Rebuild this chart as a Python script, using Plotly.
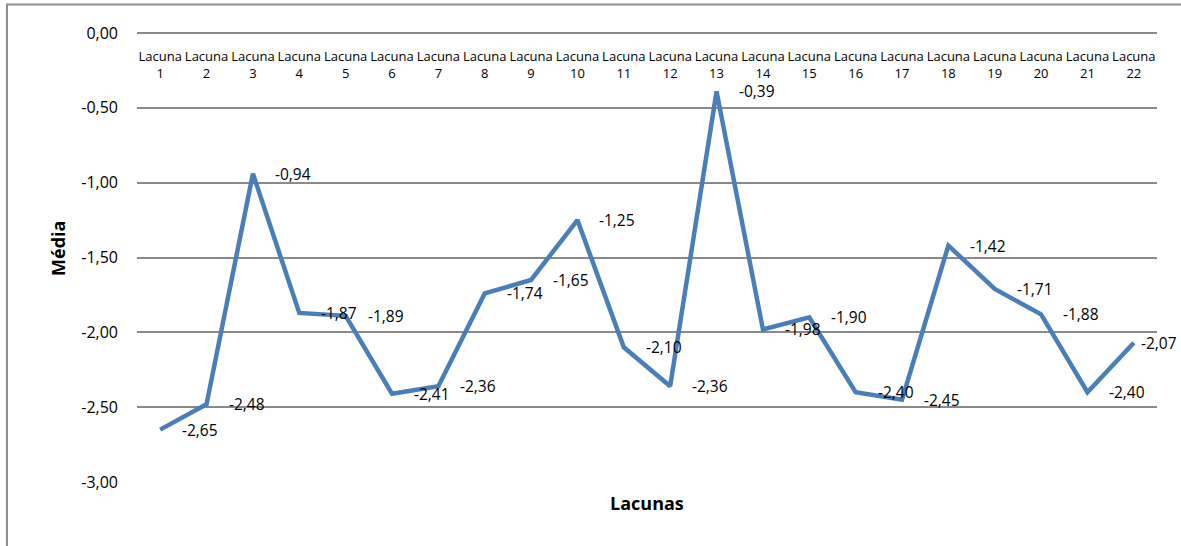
import plotly.graph_objects as go

# Mean score per gap (lacuna)
categories = [f"Lacuna<br>{i}" for i in range(1, 23)]
values = [-2.65, -2.48, -0.94, -1.87, -1.89, -2.41, -2.36, -1.74, -1.65, -1.25, -2.10,
          -2.36, -0.39, -1.98, -1.90, -2.40, -2.45, -1.42, -1.71, -1.88, -2.40, -2.07]
y_ticks = [0, -0.5, -1.0, -1.5, -2.0, -2.5, -3.0]

FONT = "Open Sans"
LINE_COLOR = "#4a7ebb"
GRID_COLOR = "#8a8a8a"


def fmt(v):
    return f"{v:.2f}".replace(".", ",")


fig = go.Figure()
fig.add_trace(go.Scatter(
    x=categories, y=values, mode="lines",
    line=dict(color=LINE_COLOR, width=4.5),
    hoverinfo="skip", showlegend=False,
))

# value labels to the right of each point
annotations = []
for i, (c, v) in enumerate(zip(categories, values)):
    shift = 5 if i == len(values) - 1 else 20
    annotations.append(dict(
        x=c, y=v, xref="x", yref="y", text=fmt(v), showarrow=False,
        xanchor="left", yanchor="middle", xshift=shift,
        font=dict(family=FONT, size=15.5, color="#000000"),
    ))

# axis titles
annotations.append(dict(
    x=0.5, y=-0.046, xref="paper", yref="paper", text="<b>Lacunas</b>",
    showarrow=False, xanchor="center", yanchor="middle",
    font=dict(family=FONT, size=18, color="#000000"),
))
annotations.append(dict(
    x=-0.078, y=0.52, xref="paper", yref="paper", text="<b>Média</b>",
    showarrow=False, xanchor="center", yanchor="middle", textangle=-90,
    font=dict(family=FONT, size=18, color="#000000"),
))

# chart-area frame: left and top edges (the others run off the page)
frame_path = "M -0.1275,-0.2 L -0.1275,1.0635 L 1.1,1.0635"

fig.update_layout(
    width=1181, height=546,
    margin=dict(l=137, r=24, t=33, b=64),
    paper_bgcolor="white", plot_bgcolor="white",
    annotations=annotations,
    shapes=[dict(
        type="path", xref="paper", yref="paper", path=frame_path,
        line=dict(color="#8c8c8c", width=2), layer="below",
    )],
)

# category axis sits on the zero line, labels hang below it
fig.update_xaxes(
    type="category", range=[-0.5, len(categories) - 0.5],
    anchor="free", position=1.0, side="bottom",
    showgrid=False, showline=False, ticks="", tickangle=0,
    tickfont=dict(family=FONT, size=13, color="#000000"),
    ticklabelstandoff=14,
)
fig.update_yaxes(
    range=[-3.0, 0.0], tickvals=y_ticks, ticktext=[fmt(t) for t in y_ticks],
    showgrid=True, gridcolor=GRID_COLOR, gridwidth=1.5,
    zeroline=True, zerolinecolor=GRID_COLOR, zerolinewidth=1.5,
    showline=False, ticks="", ticklabelstandoff=18,
    tickfont=dict(family=FONT, size=16, color="#000000"),
)

fig.write_html("out.html", config={"displayModeBar": False})
